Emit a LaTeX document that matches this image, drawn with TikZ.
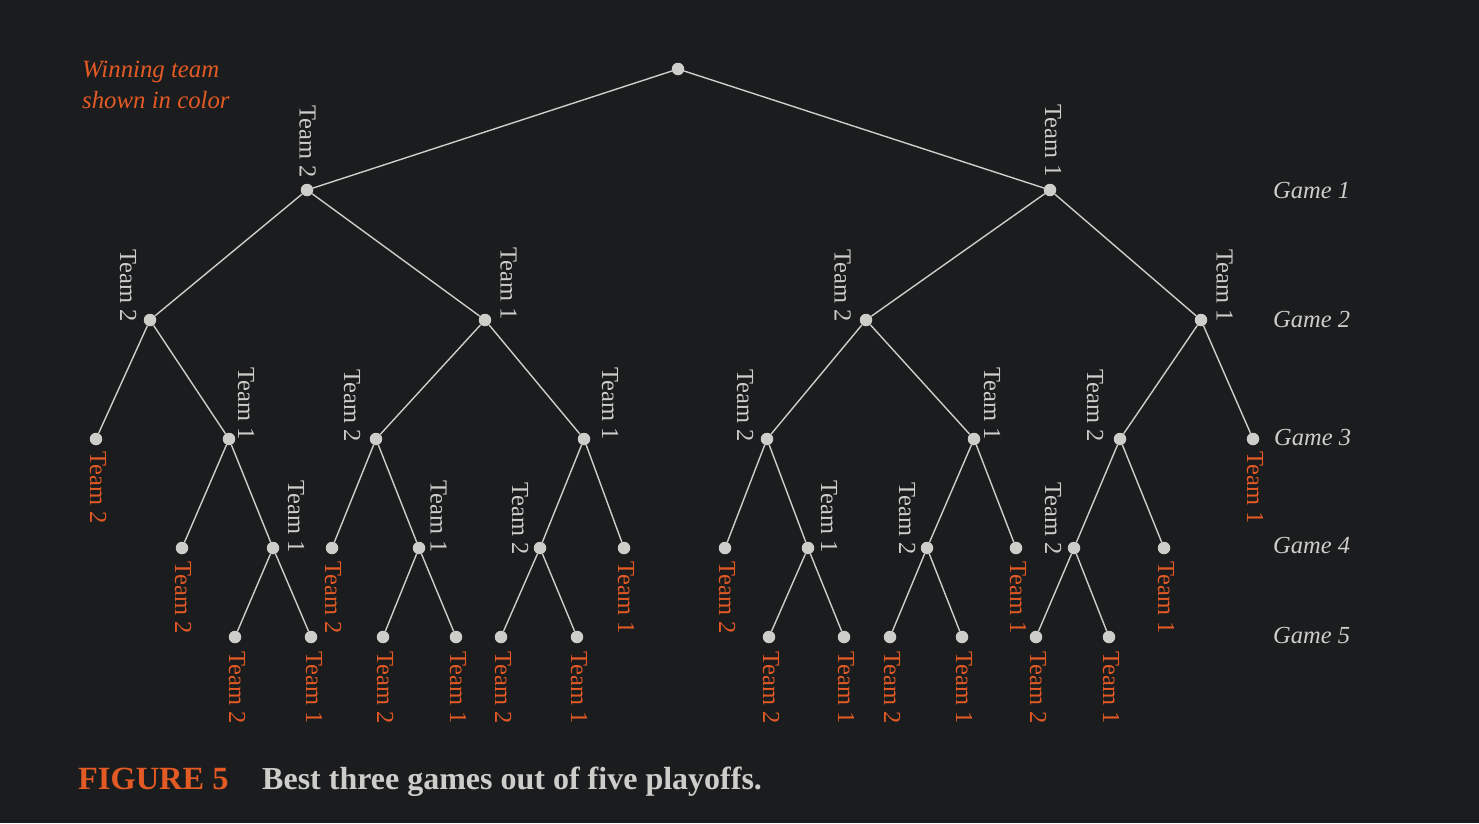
\documentclass[tikz,border=0pt]{standalone}
\usepackage{fontspec}
\setmainfont{Liberation Serif}
\definecolor{bgc}{HTML}{1B1C1E}
\definecolor{greyc}{HTML}{CDCECA}
\definecolor{orng}{HTML}{E35A25}
\begin{document}
\begin{tikzpicture}[x=1pt,y=-1pt,
  dot/.style={circle,fill=greyc,inner sep=0pt,minimum size=12.5pt},
  edge/.style={draw=greyc,line width=1.4pt},
  glbl/.style={text=greyc,font=\fontsize{24.5}{28}\selectfont,rotate=-90,inner sep=0pt,anchor=east},
  olbl/.style={text=orng,font=\fontsize{24.5}{28}\selectfont,rotate=-90,inner sep=0pt,anchor=west},
  game/.style={text=greyc,font=\fontsize{24.5}{28}\selectfont\itshape,inner sep=0pt,anchor=base west},
  note/.style={text=orng,font=\fontsize{24.8}{28}\selectfont\itshape,inner sep=0pt,anchor=base west},
  capnum/.style={text=orng,font=\fontsize{32.4}{36}\selectfont\bfseries,inner sep=0pt,anchor=base west},
  captxt/.style={text=greyc,font=\fontsize{32}{36}\selectfont\bfseries,inner sep=0pt,anchor=base west}]
\fill[bgc] (0,0) rectangle (1479,823);
\useasboundingbox (0,0) rectangle (1479,823);
% tree nodes
\node[dot] (r) at (678,69) {};
\node[dot] (a) at (307,190) {};
\node[dot] (b) at (1050,190) {};
\node[dot] (aa) at (150,320) {};
\node[dot] (ab) at (485,320) {};
\node[dot] (ba) at (866,320) {};
\node[dot] (bb) at (1201,320) {};
\node[dot] (aaa) at (96,439) {};
\node[dot] (aab) at (229,439) {};
\node[dot] (aba) at (376,439) {};
\node[dot] (abb) at (584,439) {};
\node[dot] (baa) at (767,439) {};
\node[dot] (bab) at (974,439) {};
\node[dot] (bba) at (1120,439) {};
\node[dot] (bbb) at (1253,439) {};
\node[dot] (aaba) at (182,548) {};
\node[dot] (aabb) at (273,548) {};
\node[dot] (abaa) at (332,548) {};
\node[dot] (abab) at (419,548) {};
\node[dot] (abba) at (540,548) {};
\node[dot] (abbb) at (624,548) {};
\node[dot] (baaa) at (725,548) {};
\node[dot] (baab) at (808,548) {};
\node[dot] (baba) at (927,548) {};
\node[dot] (babb) at (1016,548) {};
\node[dot] (bbaa) at (1074,548) {};
\node[dot] (bbab) at (1164,548) {};
\node[dot] (aabba) at (235,637) {};
\node[dot] (aabbb) at (311,637) {};
\node[dot] (ababa) at (383,637) {};
\node[dot] (ababb) at (456,637) {};
\node[dot] (abbaa) at (501,637) {};
\node[dot] (abbab) at (577,637) {};
\node[dot] (baaba) at (769,637) {};
\node[dot] (baabb) at (844,637) {};
\node[dot] (babaa) at (890,637) {};
\node[dot] (babab) at (962,637) {};
\node[dot] (bbaaa) at (1036,637) {};
\node[dot] (bbaab) at (1109,637) {};
% edges
\foreach \p/\c in {r/a,r/b,a/aa,a/ab,b/ba,b/bb,aa/aaa,aa/aab,ab/aba,ab/abb,ba/baa,ba/bab,bb/bba,bb/bbb,
  aab/aaba,aab/aabb,aba/abaa,aba/abab,abb/abba,abb/abbb,baa/baaa,baa/baab,bab/baba,bab/babb,bba/bbaa,bba/bbab,
  aabb/aabba,aabb/aabbb,abab/ababa,abab/ababb,abba/abbaa,abba/abbab,baab/baaba,baab/baabb,baba/babaa,baba/babab,bbaa/bbaaa,bbaa/bbaab}
  \draw[edge] (\p) -- (\c);
% grey labels (internal nodes)
\node[glbl] (la) at (307.5,178) {Team 2};
\node[glbl] (lb) at (1053,177) {Team 1};
\node[glbl] (laa) at (128,322) {Team 2};
\node[glbl] (lab) at (508.5,320) {Team 1};
\node[glbl] (lba) at (842.5,322) {Team 2};
\node[glbl] (lbb) at (1224.5,322) {Team 1};
\node[glbl] (laab) at (246,440) {Team 1};
\node[glbl] (laba) at (352,442) {Team 2};
\node[glbl] (labb) at (610,440) {Team 1};
\node[glbl] (lbaa) at (745,442) {Team 2};
\node[glbl] (lbab) at (992,440) {Team 1};
\node[glbl] (lbba) at (1095,442) {Team 2};
\node[glbl] (laabb) at (296,553) {Team 1};
\node[glbl] (labab) at (438.5,553) {Team 1};
\node[glbl] (labba) at (520,555) {Team 2};
\node[glbl] (lbaab) at (829,553) {Team 1};
\node[glbl] (lbaba) at (907,555) {Team 2};
\node[glbl] (lbbaa) at (1053,555) {Team 2};
% orange labels (leaves)
\node[olbl] (laaa) at (98,451) {Team 2};
\node[olbl] (lbbb) at (1255,451) {Team 1};
\node[olbl] (laaba) at (183,561) {Team 2};
\node[olbl] (labaa) at (333,561) {Team 2};
\node[olbl] (labbb) at (626,561) {Team 1};
\node[olbl] (lbaaa) at (727,561) {Team 2};
\node[olbl] (lbabb) at (1018,561) {Team 1};
\node[olbl] (lbbab) at (1166,561) {Team 1};
\node[olbl] (laabba) at (237,651) {Team 2};
\node[olbl] (laabbb) at (314,651) {Team 1};
\node[olbl] (lababa) at (385,651) {Team 2};
\node[olbl] (lababb) at (458,651) {Team 1};
\node[olbl] (labbaa) at (503,651) {Team 2};
\node[olbl] (labbab) at (579,651) {Team 1};
\node[olbl] (lbaaba) at (771,651) {Team 2};
\node[olbl] (lbaabb) at (846,651) {Team 1};
\node[olbl] (lbabaa) at (892,651) {Team 2};
\node[olbl] (lbabab) at (964,651) {Team 1};
\node[olbl] (lbbaaa) at (1038,651) {Team 2};
\node[olbl] (lbbaab) at (1111,651) {Team 1};
% game labels
\node[game] (g1) at (1273,198) {Game 1};
\node[game] (g2) at (1273,327) {Game 2};
\node[game] (g3) at (1274,445) {Game 3};
\node[game] (g4) at (1273,553) {Game 4};
\node[game] (g5) at (1273,643) {Game 5};
% note
\node[note] (n1) at (82,77) {Winning team};
\node[note] (n2) at (82,108) {shown in color};
% caption
\node[capnum] (c1) at (78,789) {FIGURE 5};
\node[captxt] (c2) at (262,789) {Best three games out of five playoffs.};
\end{tikzpicture}
\end{document}
